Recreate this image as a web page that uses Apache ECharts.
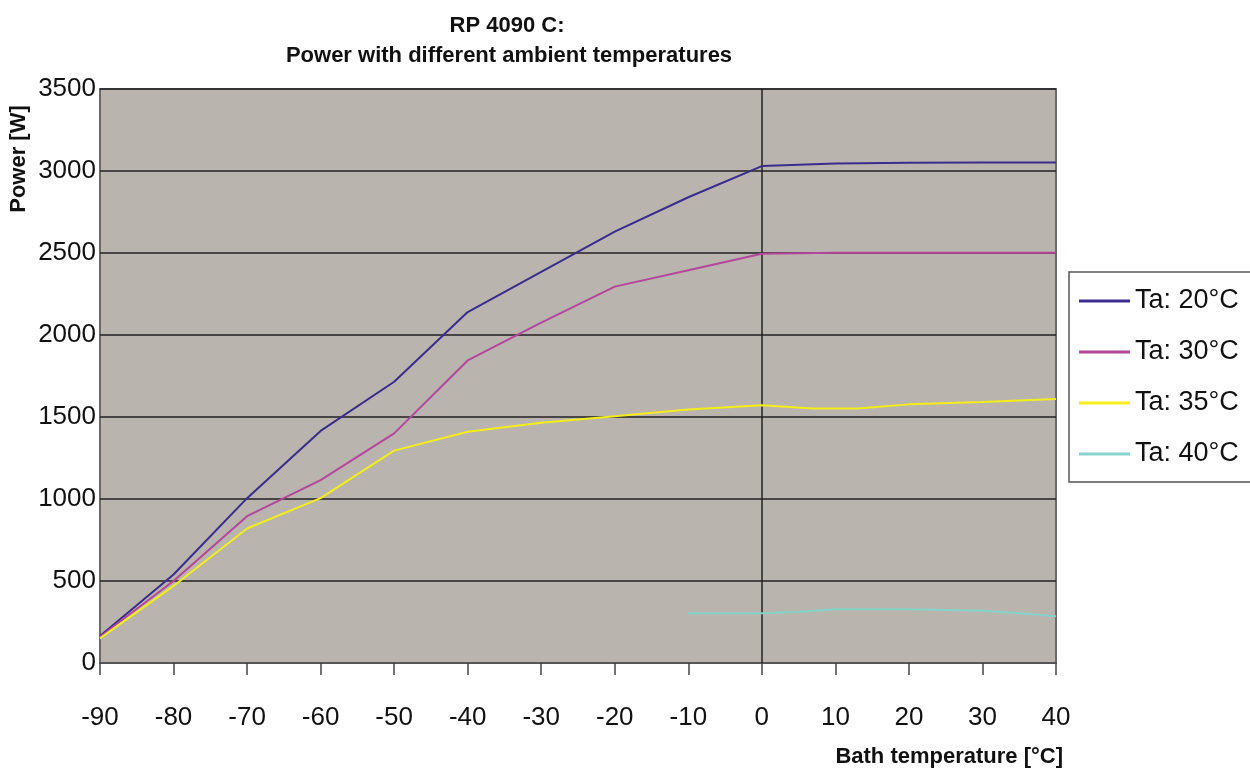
<!DOCTYPE html>
<html>
<head>
<meta charset="utf-8">
<script src="https://cdn.jsdelivr.net/npm/echarts@6/dist/echarts.min.js"></script>
<style>html,body{margin:0;padding:0;background:#fff}#c{width:1250px;height:771px}</style>
</head>
<body>
<div id="c"></div>
<script>
var titleLines = ["RP 4090 C:", "Power with different ambient temperatures"];
var xName = "Bath temperature [°C]";
var yName = "Power [W]";
var seriesNames = ["Ta: 20°C", "Ta: 30°C", "Ta: 35°C", "Ta: 40°C"];

var bathTemps = [-90, -80, -70, -60, -50, -40, -30, -20, -10, 0, 10, 20, 30, 40];
var ta20 = [165, 540, 1005, 1415, 1715, 2140, 2385, 2630, 2840, 3030, 3045, 3050, 3052, 3052];
var ta30 = [160, 500, 895, 1115, 1400, 1845, 2075, 2295, 2395, 2495, 2502, 2502, 2502, 2502];
var ta35Temps = [-90, -80, -70, -60, -50, -40, -30, -20, -10, 0, 7, 13, 20, 30, 40];
var ta35 = [150, 470, 820, 1005, 1295, 1410, 1465, 1505, 1545, 1572, 1552, 1552, 1577, 1592, 1610];
var ta40Temps = [-10, 0, 5, 10, 20, 30, 35, 40];
var ta40 = [303, 303, 312, 327, 327, 318, 303, 285];

function pairs(xs, ys) { return xs.map(function (x, i) { return [x, ys[i]]; }); }

var colors = ["#3a2c8c", "#b5469c", "#f3ee1a", "#84d2ca"];
var font = "Liberation Sans, Arial, sans-serif";

var chart = echarts.init(document.getElementById('c'));
function mk(i, data, extra) {
  var s = {
    name: seriesNames[i], type: 'line', data: data, symbol: 'none', smooth: false,
    lineStyle: { color: colors[i], width: 2 }, itemStyle: { color: colors[i] },
    emphasis: { disabled: true }, z: 3
  };
  if (extra) Object.assign(s, extra);
  return s;
}
chart.setOption({
  animation: false,
  textStyle: { fontFamily: font },
  grid: { left: 100, right: 194, top: 89, bottom: 108, show: true, backgroundColor: '#b9b5ae', borderColor: '#6a6a6a', borderWidth: 2 },
  xAxis: {
    type: 'value', min: -90, max: 40, interval: 10,
    axisLine: { show: true, onZero: false, lineStyle: { color: '#555', width: 2 } },
    axisTick: { show: true, length: 12, inside: false, lineStyle: { color: '#444', width: 1.5 } },
    axisLabel: { fontSize: 26, color: '#111', margin: 42, fontFamily: font, formatter: function (v) { return String(v); } },
    splitLine: { show: false }
  },
  yAxis: {
    type: 'value', min: 0, max: 3500, interval: 500,
    axisLine: { show: false },
    axisTick: { show: false },
    axisLabel: { fontSize: 26, color: '#111', margin: 4, fontFamily: font, formatter: function (v) { return String(v); } },
    splitLine: { show: true, lineStyle: { color: '#222', width: 1.5 } }
  },
  legend: {
    orient: 'vertical', left: 1069, top: 272,
    backgroundColor: '#fff', borderColor: '#555', borderWidth: 1.5,
    padding: [15, 30, 14, 10], itemGap: 23, itemWidth: 51, itemHeight: 3, icon: 'rect',
    textStyle: { fontSize: 27, color: '#111', lineHeight: 28, fontFamily: font },
    data: seriesNames
  },
  graphic: [
    { type: 'text', x: 507, y: 15, style: { text: titleLines[0], fontSize: 22, fontWeight: 'bold', fill: '#111', textAlign: 'center', fontFamily: font } },
    { type: 'text', x: 509, y: 45, style: { text: titleLines[1], fontSize: 22, fontWeight: 'bold', fill: '#111', textAlign: 'center', fontFamily: font } },
    { type: 'text', x: 8, y: 159, rotation: Math.PI / 2, style: { text: yName, fontSize: 22, fontWeight: 'bold', fill: '#111', textAlign: 'center', textVerticalAlign: 'top', fontFamily: font } },
    { type: 'text', x: 1063, y: 746, style: { text: xName, fontSize: 22, fontWeight: 'bold', fill: '#111', textAlign: 'right', fontFamily: font } }
  ],
  series: [
    mk(0, pairs(bathTemps, ta20), {
      markLine: { silent: true, symbol: 'none', label: { show: false }, lineStyle: { color: '#222', width: 1.5, type: 'solid' }, data: [{ xAxis: 0 }], z: 2 }
    }),
    mk(1, pairs(bathTemps, ta30)),
    mk(2, pairs(ta35Temps, ta35)),
    mk(3, pairs(ta40Temps, ta40))
  ]
});
</script>
</body>
</html>
